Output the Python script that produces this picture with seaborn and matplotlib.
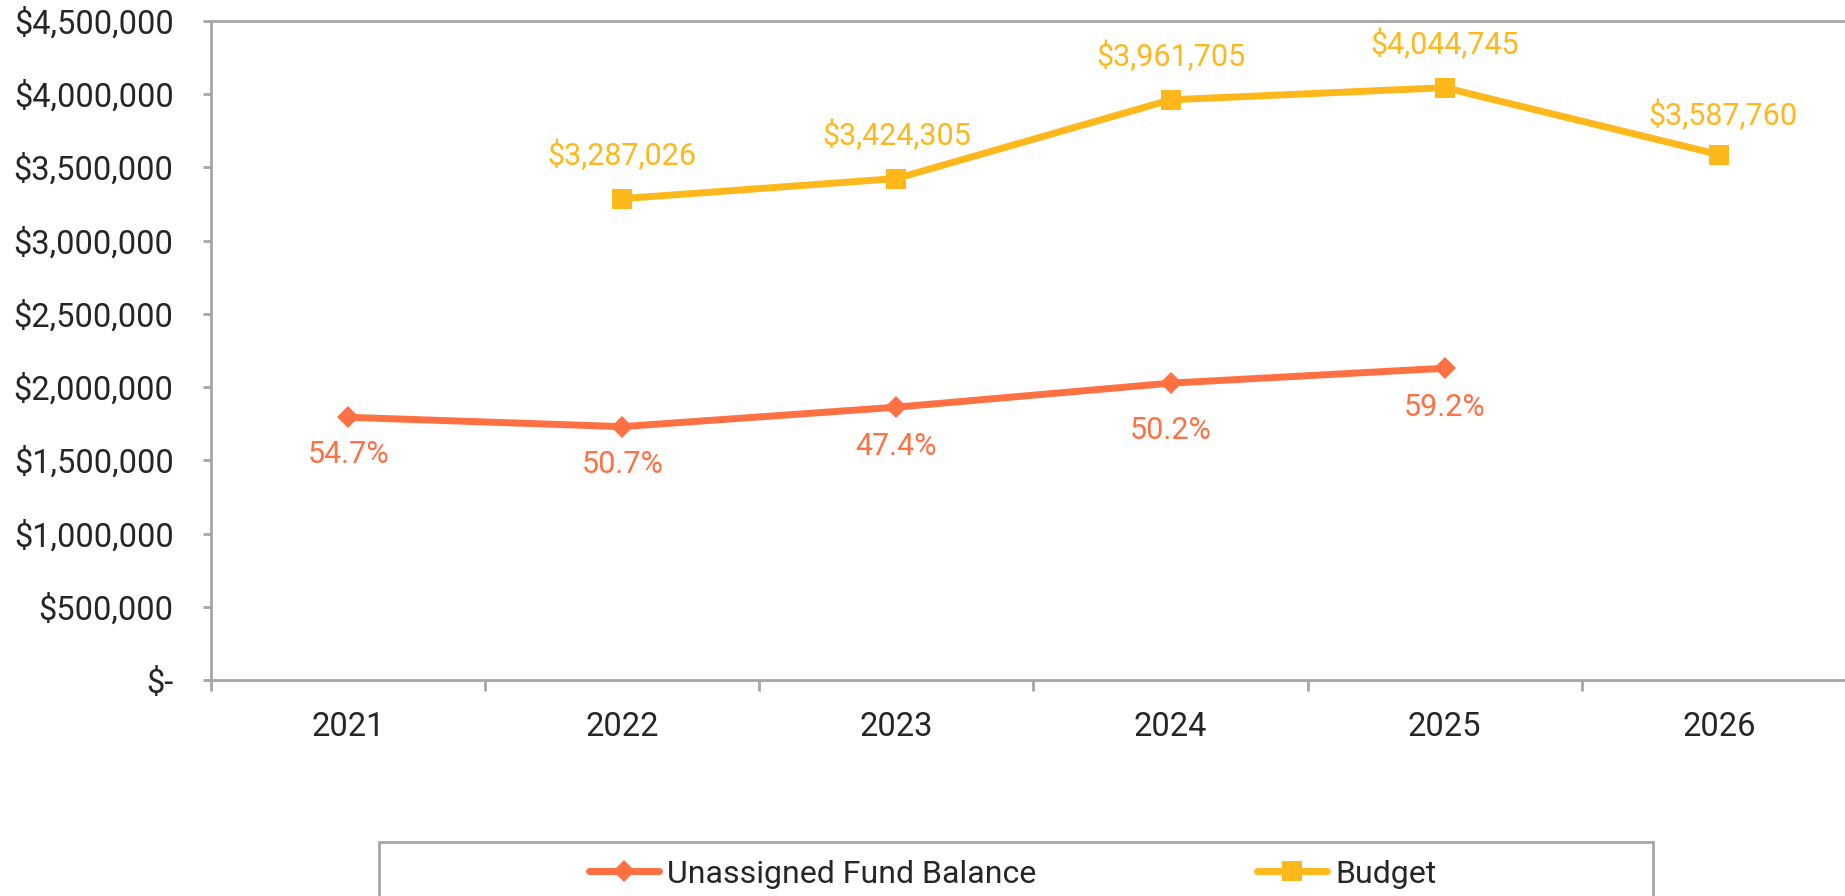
"""Unassigned fund balance vs budget line chart."""

import matplotlib
matplotlib.use('Agg')
import matplotlib.pyplot as plt
import numpy as np
import pandas as pd
import seaborn as sns
from matplotlib.lines import Line2D
from matplotlib.patches import Rectangle
from matplotlib.ticker import FuncFormatter, MultipleLocator, FixedLocator

# data
years = ["2021", "2022", "2023", "2024", "2025", "2026"]
fund_balance = [1794000, 1730000, 1863000, 2027000, 2129000, np.nan]
fund_pct = ["54.7%", "50.7%", "47.4%", "50.2%", "59.2%", None]
budget = [np.nan, 3287026, 3424305, 3961705, 4044745, 3587760]

# label offsets (points) below the fund markers, as placed in the original
fund_label_dy = [-27, -27, -28.5, -34, -28.5, 0]

FUND_COLOR = "#FF7043"
BUDGET_COLOR = "#FFB81C"
GRAY = "#A6A6A6"
TICK_FS = 23.5
LABEL_FS = 22
LEGEND_FS = 23

sns.set_style("white")
plt.rcParams["font.family"] = ["Roboto", "DejaVu Sans"]

df = pd.DataFrame({"pos": np.arange(len(years)), "fund": fund_balance, "budget": budget})

fig = plt.figure(figsize=(18.45, 8.96), dpi=100)
ax = fig.add_axes([211 / 1845, 1 - 680 / 896, 1645 / 1845, 659 / 896])

sns.lineplot(data=df, x="pos", y="fund", ax=ax, color=FUND_COLOR, linewidth=5,
             marker="D", markersize=11, markeredgewidth=0)
sns.lineplot(data=df, x="pos", y="budget", ax=ax, color=BUDGET_COLOR, linewidth=5,
             marker="s", markersize=15, markeredgewidth=0)

# data labels
for i, (v, p) in enumerate(zip(fund_balance, fund_pct)):
    if p is not None:
        ax.annotate(p, (i, v), xytext=(0, fund_label_dy[i]), textcoords="offset points",
                    ha="center", va="center", fontsize=LABEL_FS, color=FUND_COLOR)
for i, v in enumerate(budget):
    if not np.isnan(v):
        dx, dy = (3, 28.5) if i == len(budget) - 1 else (0, 31)
        ax.annotate(f"${v:,.0f}", (i, v), xytext=(dx, dy), textcoords="offset points",
                    ha="center", va="center", fontsize=LABEL_FS, color=BUDGET_COLOR)

ax.set_xlim(-0.5, len(years) - 0.5)
ax.set_ylim(0, 4500000)
ax.yaxis.set_major_locator(MultipleLocator(500000))
ax.yaxis.set_major_formatter(FuncFormatter(lambda v, _: "$-" if v == 0 else f"${v:,.0f}"))
ax.set_xticks(range(len(years)))
ax.set_xticklabels(years)
ax.xaxis.set_minor_locator(FixedLocator(np.arange(-0.5, len(years), 1.0)))
ax.set_xlabel("")
ax.set_ylabel("")

ax.tick_params(axis="y", which="major", length=6, width=2, color=GRAY, pad=21,
               labelsize=TICK_FS, left=True)
ax.tick_params(axis="x", which="major", length=0, pad=22, labelsize=TICK_FS)
ax.tick_params(axis="x", which="minor", length=8, width=2, color=GRAY, bottom=True)

for side in ["left", "bottom", "top"]:
    ax.spines[side].set_color(GRAY)
    ax.spines[side].set_linewidth(2)
ax.spines["right"].set_visible(False)

# legend with a separate box like the reference
handles = [
    Line2D([], [], color=FUND_COLOR, linewidth=5, marker="D", markersize=11, markeredgewidth=0),
    Line2D([], [], color=BUDGET_COLOR, linewidth=5, marker="s", markersize=15, markeredgewidth=0),
]
fig.legend(handles, ["Unassigned Fund Balance", "Budget"], loc="center left",
           bbox_to_anchor=(589 / 1845, 1 - 874 / 896), ncol=2, frameon=False,
           fontsize=LEGEND_FS, handlelength=2.2, handletextpad=0.25, columnspacing=6.9,
           borderpad=0, borderaxespad=0)
fig.patches.append(Rectangle((379 / 1845, -0.05), (1653 - 379) / 1845, 0.05 + 1 - 842.5 / 896,
                             transform=fig.transFigure, fill=False, edgecolor=GRAY,
                             linewidth=2, figure=fig))

fig.savefig("out.png", dpi=100)
